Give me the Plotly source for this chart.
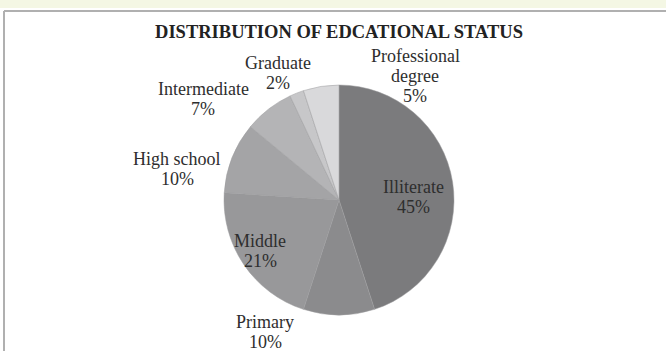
import plotly.graph_objects as go

categories = ["Illiterate", "Primary", "Middle", "High school", "Intermediate", "Graduate", "Professional degree"]
display_labels = ["Illiterate", "Primary", "Middle", "High school", "Intermediate", "Graduate", "Professional<br>degree"]
values = [45, 10, 21, 10, 7, 2, 5]
colors = ["#7b7b7d", "#8b8b8d", "#98989a", "#a4a4a6", "#b4b4b6", "#c7c7c9", "#d9d9db"]
title_text = "DISTRIBUTION OF EDCATIONAL STATUS"

# label positions in pixels: centre x, first-line centre y (layout only)
label_px = [(413, 187), (265, 322), (260, 241), (177, 159), (203, 89), (278, 63), (415, 56)]
line_step = 20

W, H = 666, 351
cx, cy, r = 339, 200, 115

fig = go.Figure()
fig.add_trace(go.Pie(
    labels=categories,
    values=values,
    textposition="none",
    sort=False,
    direction="clockwise",
    rotation=0,
    marker=dict(colors=colors, line=dict(color="#9c9c9e", width=0.5)),
    showlegend=False,
    hoverinfo="label+percent",
    domain=dict(x=[(cx - r) / W, (cx + r) / W], y=[(H - cy - r) / H, (H - cy + r) / H]),
))

total = sum(values)
annotations = []
for lab, v, (px, py) in zip(display_labels, values, label_px):
    lines = lab.split("<br>") + [f"{round(100 * v / total)}%"]
    for i, line in enumerate(lines):
        annotations.append(dict(
            text=line,
            xref="paper", yref="paper", x=px / W, y=1 - (py + i * line_step) / H,
            xanchor="center", yanchor="middle", showarrow=False,
            font=dict(family="Liberation Serif", size=18, color="#2e2e2e"),
        ))

fig.update_layout(
    width=W, height=H,
    margin=dict(l=0, r=0, t=0, b=0, autoexpand=False),
    paper_bgcolor="white",
    title=dict(text="<b>" + title_text + "</b>", x=cx / W, xanchor="center",
               y=1 - 32 / H, yanchor="middle",
               font=dict(family="Liberation Serif", size=18.5, color="#222222")),
    annotations=annotations,
    shapes=[
        dict(type="rect", xref="paper", yref="paper", x0=0, x1=1, y0=1 - 8 / H, y1=1,
             fillcolor="#f4f7e4", line=dict(width=0), layer="below"),
        dict(type="line", xref="paper", yref="paper", x0=4 / W, x1=1, y0=1 - 11 / H, y1=1 - 11 / H,
             line=dict(color="#b0b0b0", width=2)),
        dict(type="line", xref="paper", yref="paper", x0=4 / W, x1=4 / W, y0=0, y1=1 - 11 / H,
             line=dict(color="#b0b0b0", width=2)),
    ],
)

fig.write_html("out.html")
